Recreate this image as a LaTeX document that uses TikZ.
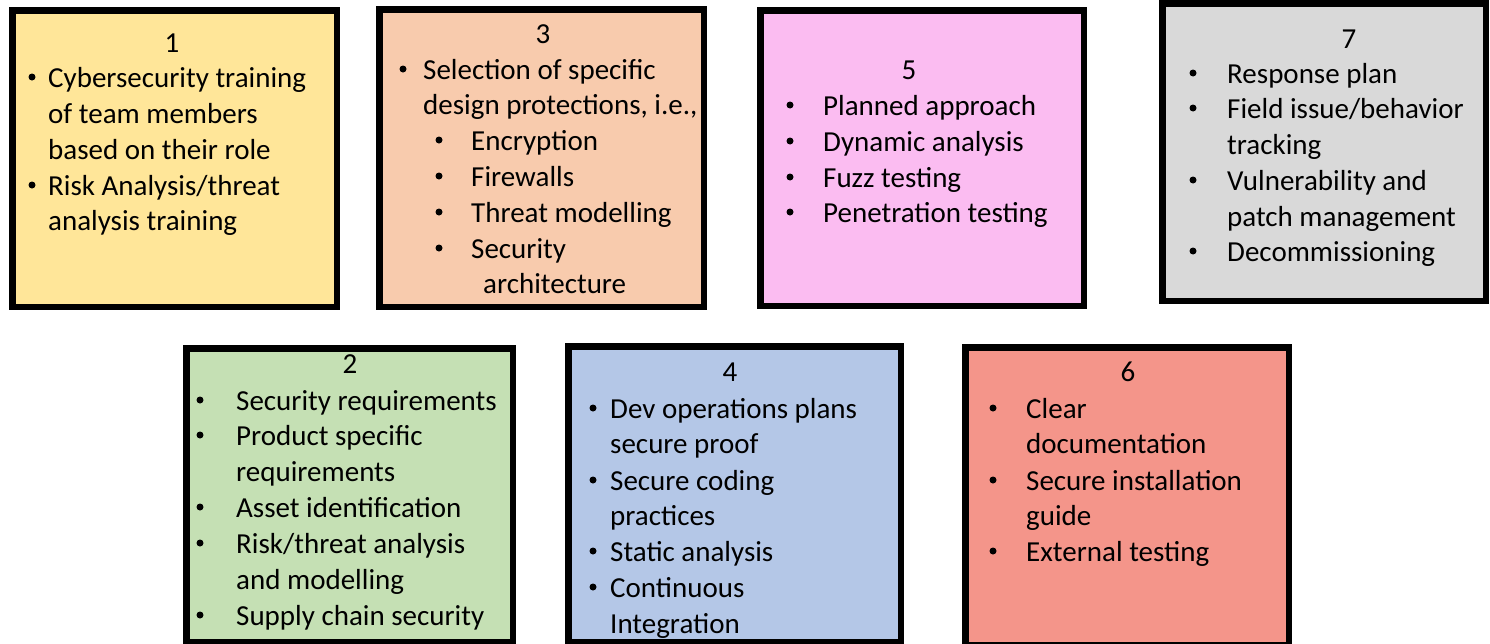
\documentclass[tikz,border=0pt]{standalone}
\usepackage{fontspec}
\setmainfont{Carlito}
\definecolor{cyel}{HTML}{FFE699}
\definecolor{cpeach}{HTML}{F8CBAD}
\definecolor{cpink}{HTML}{FBBCF1}
\definecolor{cgrey}{HTML}{D9D9D9}
\definecolor{cgreen}{HTML}{C5E0B4}
\definecolor{cblue}{HTML}{B4C7E7}
\definecolor{cred}{HTML}{F4958A}
\tikzset{
  box/.style={draw=black, line width=6.5pt, inner sep=0pt, outer sep=0pt, rectangle},
  txt/.style={anchor=base west, inner sep=0pt, font=\fontsize{29}{36}\selectfont},
  bul/.style={circle, fill=black, inner sep=0pt, minimum size=7pt},
  num/.style={anchor=base, inner sep=0pt, font=\fontsize{29}{36}\selectfont}
}
% \itm{name}{bullet x}{text x}{baseline y}{text}
\newcommand\itm[5]{\node[bul] (#1b) at (#2,#4-10) {}; \node[txt] (#1) at (#3,#4) {#5};}
% \cont{name}{text x}{baseline y}{text}
\newcommand\cont[4]{\node[txt] (#1) at (#2,#3) {#4};}
\begin{document}
\begin{tikzpicture}[x=1pt,y=-1pt]
\useasboundingbox (0,0) rectangle (1490,643);
% boxes
\node[box, fill=cyel,   minimum width=324.5pt, minimum height=296.5pt] (b1) at (174.5,158.5) {};
\node[box, fill=cpeach, minimum width=324.5pt, minimum height=297.5pt] (b3) at (541.5,158) {};
\node[box, fill=cpink,  minimum width=323.5pt, minimum height=295.5pt] (b5) at (922,158) {};
\node[box, fill=cgrey,  minimum width=323.5pt, minimum height=297.5pt] (b7) at (1324,152) {};
\node[box, fill=cgreen, minimum width=326.5pt, minimum height=293.5pt] (b2) at (349.5,495) {};
\node[box, fill=cblue,  minimum width=332.5pt, minimum height=295.5pt] (b4) at (734.5,494) {};
\node[box, fill=cred,   minimum width=323.5pt, minimum height=297.5pt] (b6) at (1127,496) {};
% box 1
\node[num] (n1) at (172,52) {1};
\itm{a1}{32}{48}{87}{Cybersecurity training}
\cont{a2}{48}{123}{of team members}
\cont{a3}{48}{159}{based on their role}
\itm{a4}{32}{48}{195}{Risk Analysis/threat}
\cont{a5}{48}{230}{analysis training}
% box 3
\node[num] (n3) at (543,43) {3};
\itm{c1}{403}{423}{79}{Selection of specific}
\cont{c2}{423}{114}{design protections, i.e.,}
\itm{c3}{439}{471}{150}{Encryption}
\itm{c4}{439}{471}{186}{Firewalls}
\itm{c5}{439}{471}{222}{Threat modelling}
\itm{c6}{439}{471}{258}{Security}
\cont{c7}{483}{293}{architecture}
% box 5
\node[num] (n5) at (909,79) {5};
\itm{e1}{790}{823}{115}{Planned approach}
\itm{e2}{790}{823}{151}{Dynamic analysis}
\itm{e3}{790}{823}{187}{Fuzz testing}
\itm{e4}{790}{823}{222}{Penetration testing}
% box 7
\node[num] (n7) at (1349,48) {7};
\itm{g1}{1193}{1227}{83}{Response plan}
\itm{g2}{1193}{1227}{118}{Field issue/behavior}
\cont{g3}{1227}{154}{tracking}
\itm{g4}{1193}{1227}{190}{Vulnerability and}
\cont{g5}{1227}{226}{patch management}
\itm{g6}{1193}{1227}{261}{Decommissioning}
% box 2
\node[num] (n2) at (350,373) {2};
\itm{d1}{200}{236}{410}{Security requirements}
\itm{d2}{200}{236}{445}{Product specific}
\cont{d3}{236}{481}{requirements}
\itm{d4}{200}{236}{517}{Asset identification}
\itm{d5}{200}{236}{553}{Risk/threat analysis}
\cont{d6}{236}{589}{and modelling}
\itm{d7}{200}{236}{625}{Supply chain security}
% box 4
\node[num] (n4) at (730,381) {4};
\itm{f1}{593}{610}{418}{Dev operations plans}
\cont{f2}{610}{453}{secure proof}
\itm{f3}{593}{610}{490}{Secure coding}
\cont{f4}{610}{525}{practices}
\itm{f5}{593}{610}{561}{Static analysis}
\itm{f6}{593}{610}{597}{Continuous}
\cont{f7}{610}{633}{Integration}
% box 6
\node[num] (n6) at (1128,381) {6};
\itm{h1}{993}{1026}{418}{Clear}
\cont{h2}{1026}{453}{documentation}
\itm{h3}{993}{1026}{490}{Secure installation}
\cont{h4}{1026}{525}{guide}
\itm{h5}{993}{1026}{561}{External testing}
\end{tikzpicture}
\end{document}
